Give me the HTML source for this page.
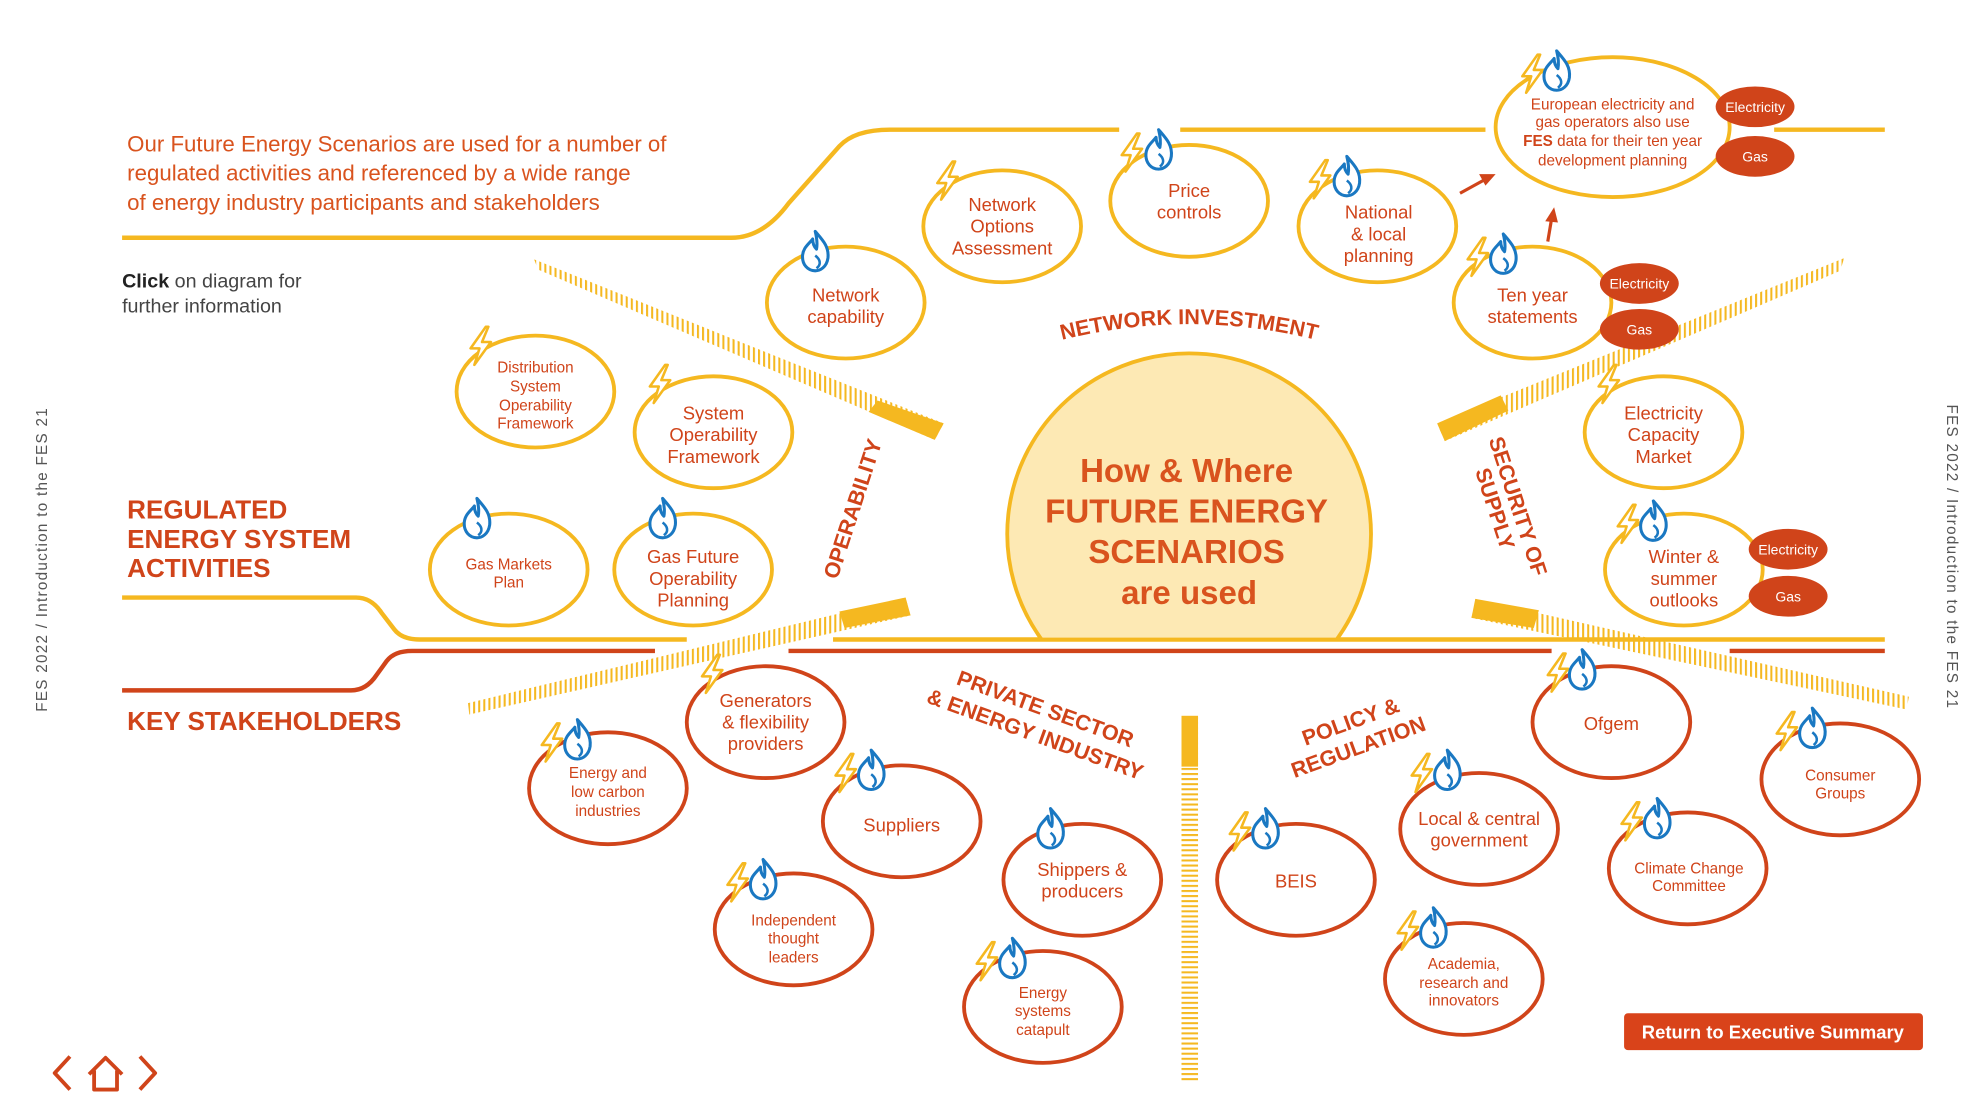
<!DOCTYPE html>
<html><head><meta charset="utf-8"><style>
html,body{margin:0;padding:0;background:#fff;}
svg{display:block;}
text{font-family:"Liberation Sans",Arial,sans-serif;}
</style></head><body>
<svg width="1984" height="1115" viewBox="0 0 1560 877" preserveAspectRatio="none" xmlns="http://www.w3.org/2000/svg">
<defs>
<pattern id="st" width="4" height="4" patternUnits="userSpaceOnUse"><rect width="1.6" height="4" fill="#f5b820"/></pattern>
<pattern id="sth" width="4" height="4" patternUnits="userSpaceOnUse"><rect width="4" height="1.6" fill="#f5b820"/></pattern>
<symbol id="bolt" overflow="visible"><path d="M4,-15 L-8,2 L-1,2 L-5,15 L8,-3 L1,-3 L6,-15 Z" fill="#fff" stroke="#f5b820" stroke-width="2" stroke-linejoin="round"/></symbol>
<symbol id="flame" overflow="visible"><path d="M0,-16 C6,-9 11,-4 10,5 C9,12 4,15 0,15 C-6,15 -10,10 -10,4 C-10,-3 -5,-6 -2,-10 C-2,-5 0,-3 1,-2 C2,-7 1,-12 0,-16 Z" fill="#fff" stroke="#1a78c2" stroke-width="2.4" stroke-linejoin="round"/><path d="M0,3 C4,6 5,10 1,13" fill="none" stroke="#1a78c2" stroke-width="2"/></symbol>
</defs>

<g fill="none" stroke-width="3.5">
<path d="M96,187 H575 Q600,187 620,160 L660,115 Q672,102 700,102 H880 M928,102 H1168 M1395,102 H1482" stroke="#f5b820"/>
<path d="M96,470 H280 Q292,470 300,482 L310,495 Q316,503 330,503 H540 M655,503 H1482" stroke="#f5b820"/>
<path d="M96,543 H276 Q288,543 296,531 L304,520 Q310,512 324,512 H515 M620,512 H1220 M1360,512 H1482" stroke="#d0441a"/>
</g>

<polygon points="420,204 423,212 735,346 742,333" fill="url(#st)"/>
<polygon points="690,315 742,333 735,346 683,324" fill="#f5b820"/>
<polygon points="1450,203 1447,213 1136,347 1130,333" fill="url(#st)"/>
<polygon points="1180,311 1130,333 1136,347 1186,323" fill="#f5b820"/>
<polygon points="368,553 369,562 716,484 712,470" fill="url(#st)"/>
<polygon points="660,481 712,470 716,484 664,494" fill="#f5b820"/>
<polygon points="1501,548 1499,558 1157,486 1160,471" fill="url(#st)"/>
<polygon points="1210,480 1160,471 1157,486 1206,494" fill="#f5b820"/>
<rect x="929" y="563" width="13" height="287" fill="url(#sth)"/>
<rect x="929" y="563" width="13" height="40" fill="#f5b820"/>

<path d="M819,503 A143,142 0 1 1 1051,503 Z" fill="#fde9b4" stroke="#f5b820" stroke-width="3"/>
<g fill="#d9531e" font-weight="bold" font-size="26" text-anchor="middle">
<text x="933" y="379">How &amp; Where</text>
<text x="933" y="411">FUTURE ENERGY</text>
<text x="933" y="443">SCENARIOS</text>
<text x="935" y="475">are used</text>
</g>

<g fill="#d9531e" font-size="17.5">
<text x="100" y="119">Our Future Energy Scenarios are used for a number of</text>
<text x="100" y="142">regulated activities and referenced by a wide range</text>
<text x="100" y="165">of energy industry participants and stakeholders</text>
</g>
<text x="96" y="226" font-size="15.5" fill="#444"><tspan font-weight="bold" fill="#222">Click</tspan> on diagram for</text>
<text x="96" y="246" font-size="15.5" fill="#444">further information</text>
<g fill="#d0441a" font-weight="bold" font-size="20.5">
<text x="100" y="408">REGULATED</text>
<text x="100" y="431">ENERGY SYSTEM</text>
<text x="100" y="454">ACTIVITIES</text>
<text x="100" y="574">KEY STAKEHOLDERS</text>
</g>

<g fill="#d0441a" font-weight="bold" font-size="17" text-anchor="middle">
<path id="arcNI" d="M825,270 Q935,240 1045,270" fill="none"/>
<text><textPath href="#arcNI" startOffset="50%">NETWORK INVESTMENT</textPath></text>
<text transform="translate(676,402) rotate(-72)">OPERABILITY</text>
<text transform="translate(1188,400) rotate(72)">SECURITY OF</text>
<text transform="translate(1170,402) rotate(72)">SUPPLY</text>
<text transform="translate(820,563) rotate(20)">PRIVATE SECTOR</text>
<text transform="translate(812,583) rotate(20)">&amp; ENERGY INDUSTRY</text>
<text transform="translate(1064,573) rotate(-20)">POLICY &amp;</text>
<text transform="translate(1070,593) rotate(-20)">REGULATION</text>
</g>

<g fill="#fff" stroke="#f5b820" stroke-width="3">
<ellipse cx="665" cy="238" rx="62" ry="44"/>
<ellipse cx="788" cy="178" rx="62" ry="44"/>
<ellipse cx="935" cy="158" rx="62" ry="44"/>
<ellipse cx="1083" cy="178" rx="62" ry="44"/>
<ellipse cx="1268" cy="100" rx="92" ry="55"/>
<ellipse cx="1205" cy="238" rx="62" ry="44"/>
<ellipse cx="421" cy="308" rx="62" ry="44"/>
<ellipse cx="561" cy="340" rx="62" ry="44"/>
<ellipse cx="400" cy="448" rx="62" ry="44"/>
<ellipse cx="545" cy="448" rx="62" ry="44"/>
<ellipse cx="1308" cy="340" rx="62" ry="44"/>
<ellipse cx="1324" cy="448" rx="62" ry="44"/>
</g>
<g fill="#fff" stroke="#d0441a" stroke-width="3">
<ellipse cx="602" cy="568" rx="62" ry="44"/>
<ellipse cx="478" cy="620" rx="62" ry="44"/>
<ellipse cx="709" cy="646" rx="62" ry="44"/>
<ellipse cx="624" cy="731" rx="62" ry="44"/>
<ellipse cx="851" cy="692" rx="62" ry="44"/>
<ellipse cx="820" cy="792" rx="62" ry="44"/>
<ellipse cx="1019" cy="692" rx="62" ry="44"/>
<ellipse cx="1163" cy="652" rx="62" ry="44"/>
<ellipse cx="1151" cy="770" rx="62" ry="44"/>
<ellipse cx="1267" cy="568" rx="62" ry="44"/>
<ellipse cx="1327" cy="683" rx="62" ry="44"/>
<ellipse cx="1447" cy="613" rx="62" ry="44"/>
</g>

<g fill="#d0441a">
<ellipse cx="1380" cy="84" rx="31" ry="16"/><ellipse cx="1380" cy="123" rx="31" ry="16"/>
<ellipse cx="1289" cy="223" rx="31" ry="16"/><ellipse cx="1289" cy="259" rx="31" ry="16"/>
<ellipse cx="1406" cy="432" rx="31" ry="16"/><ellipse cx="1406" cy="469" rx="31" ry="16"/>
</g>
<g fill="#fff" font-size="11" text-anchor="middle">
<text x="1380" y="88">Electricity</text><text x="1380" y="127">Gas</text>
<text x="1289" y="227">Electricity</text><text x="1289" y="263">Gas</text>
<text x="1406" y="436">Electricity</text><text x="1406" y="473">Gas</text>
</g>

<g stroke="#d0441a" stroke-width="2.5" fill="#d0441a">
<line x1="1148" y1="152" x2="1168" y2="141"/><polygon points="1176,137 1163,137 1168,146" stroke="none"/>
<line x1="1217" y1="190" x2="1220" y2="172"/><polygon points="1222,163 1215,174 1225,175" stroke="none"/>
</g>

<g fill="#d0441a" text-anchor="middle" font-size="14.5">
<text x="665" y="237">Network</text><text x="665" y="254">capability</text>
<text x="788" y="166">Network</text><text x="788" y="183">Options</text><text x="788" y="200">Assessment</text>
<text x="935" y="155">Price</text><text x="935" y="172">controls</text>
<text x="1084" y="172">National</text><text x="1084" y="189">&amp; local</text><text x="1084" y="206">planning</text>
<text x="1205" y="237">Ten year</text><text x="1205" y="254">statements</text>
<text x="561" y="330">System</text><text x="561" y="347">Operability</text><text x="561" y="364">Framework</text>
<text x="545" y="443">Gas Future</text><text x="545" y="460">Operability</text><text x="545" y="477">Planning</text>
<text x="1308" y="330">Electricity</text><text x="1308" y="347">Capacity</text><text x="1308" y="364">Market</text>
<text x="1324" y="443">Winter &amp;</text><text x="1324" y="460">summer</text><text x="1324" y="477">outlooks</text>
<text x="602" y="556">Generators</text><text x="602" y="573">&amp; flexibility</text><text x="602" y="590">providers</text>
<text x="709" y="654">Suppliers</text>
<text x="851" y="689">Shippers &amp;</text><text x="851" y="706">producers</text>
<text x="1019" y="698">BEIS</text>
<text x="1163" y="649">Local &amp; central</text><text x="1163" y="666">government</text>
<text x="1267" y="574">Ofgem</text>
</g>
<g fill="#d0441a" text-anchor="middle" font-size="12">
<text x="1268" y="86">European electricity and</text>
<text x="1268" y="100">gas operators also use</text>
<text x="1268" y="115"><tspan font-weight="bold">FES</tspan> data for their ten year</text>
<text x="1268" y="130">development planning</text>
<text x="421" y="293">Distribution</text><text x="421" y="308">System</text><text x="421" y="323">Operability</text><text x="421" y="337">Framework</text>
<text x="400" y="448">Gas Markets</text><text x="400" y="462">Plan</text>
<text x="478" y="612">Energy and</text><text x="478" y="627">low carbon</text><text x="478" y="642">industries</text>
<text x="624" y="728">Independent</text><text x="624" y="742">thought</text><text x="624" y="757">leaders</text>
<text x="820" y="785">Energy</text><text x="820" y="799">systems</text><text x="820" y="814">catapult</text>
<text x="1151" y="762">Academia,</text><text x="1151" y="777">research and</text><text x="1151" y="791">innovators</text>
<text x="1328" y="687">Climate Change</text><text x="1328" y="701">Committee</text>
<text x="1447" y="614">Consumer</text><text x="1447" y="628">Groups</text>
</g>

<use href="#flame" x="641" y="198"/>
<use href="#bolt" x="745" y="142"/>
<use href="#bolt" x="890" y="120"/><use href="#flame" x="911" y="118"/>
<use href="#bolt" x="1038" y="141"/><use href="#flame" x="1059" y="139"/>
<use href="#bolt" x="1205" y="58"/><use href="#flame" x="1224" y="56"/>
<use href="#bolt" x="1162" y="202"/><use href="#flame" x="1182" y="200"/>
<use href="#bolt" x="378" y="272"/>
<use href="#bolt" x="519" y="302"/>
<use href="#flame" x="375" y="408"/>
<use href="#flame" x="521" y="408"/>
<use href="#bolt" x="1265" y="302"/>
<use href="#bolt" x="1280" y="412"/><use href="#flame" x="1300" y="410"/>
<use href="#bolt" x="560" y="530"/>
<use href="#bolt" x="434" y="584"/><use href="#flame" x="454" y="582"/>
<use href="#bolt" x="665" y="608"/><use href="#flame" x="685" y="606"/>
<use href="#bolt" x="580" y="694"/><use href="#flame" x="600" y="692"/>
<use href="#flame" x="826" y="652"/>
<use href="#bolt" x="776" y="756"/><use href="#flame" x="796" y="754"/>
<use href="#bolt" x="975" y="654"/><use href="#flame" x="995" y="652"/>
<use href="#bolt" x="1118" y="608"/><use href="#flame" x="1138" y="606"/>
<use href="#bolt" x="1107" y="732"/><use href="#flame" x="1127" y="730"/>
<use href="#bolt" x="1225" y="529"/><use href="#flame" x="1244" y="527"/>
<use href="#bolt" x="1283" y="646"/><use href="#flame" x="1303" y="644"/>
<use href="#bolt" x="1405" y="575"/><use href="#flame" x="1425" y="573"/>

<rect x="1277" y="797" width="235" height="29" rx="3" fill="#d9431a"/>
<text x="1394" y="817" fill="#fff" font-size="14.5" font-weight="bold" text-anchor="middle">Return to Executive Summary</text>

<g fill="none" stroke="#d0441a" stroke-width="3" stroke-linejoin="round">
<polyline points="55,831 43,844 55,857"/>
<polyline points="110,831 122,844 110,857"/>
<path d="M70,845 L83,832 L96,845 M74,842 V857 H92 V842"/>
</g>

<text transform="translate(37,440) rotate(-90)" font-size="12" fill="#555" text-anchor="middle" letter-spacing="1">FES 2022  /  Introduction to the FES  21</text>
<text transform="translate(1531,438) rotate(90)" font-size="12" fill="#555" text-anchor="middle" letter-spacing="1">FES 2022  /  Introduction to the FES  21</text>
</svg>
</body></html>
